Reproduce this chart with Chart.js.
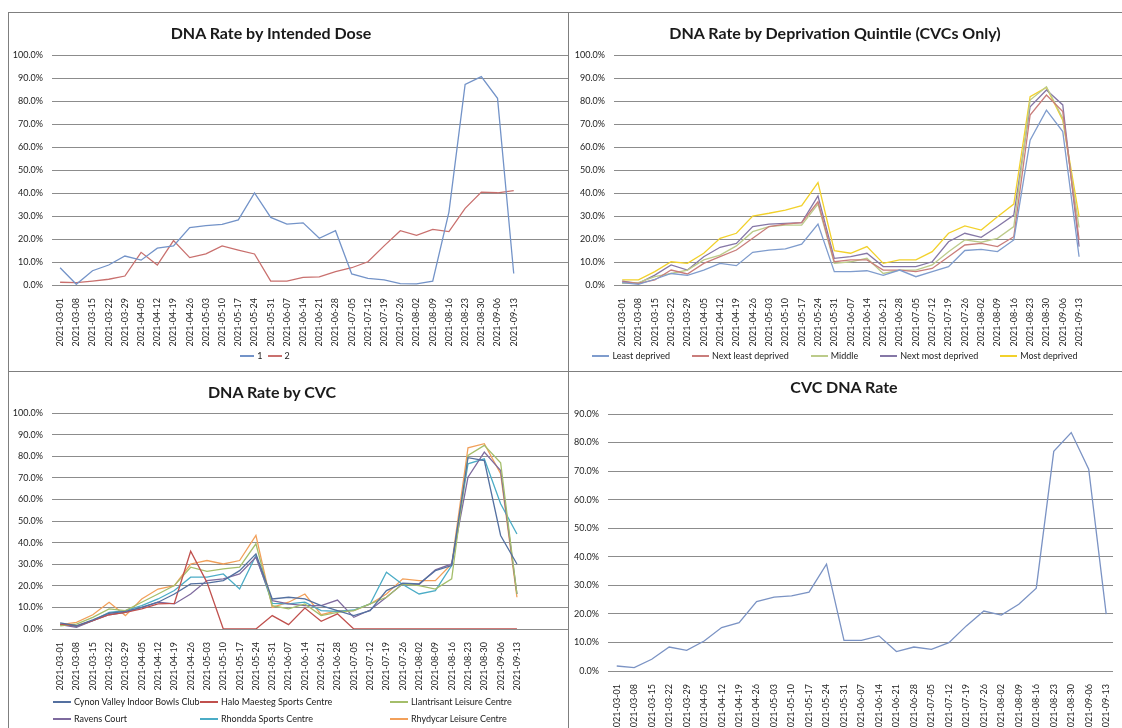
<!DOCTYPE html>
<html>
<head>
<meta charset="utf-8">
<script src="https://cdn.jsdelivr.net/npm/chart.js@4/dist/chart.umd.min.js"></script>
<style>
  html, body { margin: 0; padding: 0; background: #fff; }
  body { width: 1122px; height: 728px; overflow: hidden; position: relative; font-family: Lato, 'Open Sans', sans-serif; }
  canvas { position: absolute; }
  .rule { position: absolute; background: #7f7f7f; }
  .title { position: absolute; width: 500px; text-align: center; font: bold 16px/20px Lato, sans-serif; color: #1a1a1a; }
  .legend { position: absolute; display: flex; align-items: center; font: 9px/11px Lato, sans-serif; color: #222; white-space: nowrap; }
  .item { display: flex; align-items: center; }
  .swatch { display: inline-block; height: 2px; margin-right: 3px; }
  .grid3 { position: absolute; display: grid; grid-template-columns: 147px 190px 160px; row-gap: 6px; font: 9px/11px Lato, sans-serif; color: #222; white-space: nowrap; }
</style>
</head>
<body>

<div class="rule" style="left:8px;top:12px;width:1114px;height:1px"></div>
<div class="rule" style="left:8px;top:12px;width:1px;height:716px"></div>
<div class="rule" style="left:568px;top:12px;width:1px;height:716px"></div>
<div class="rule" style="left:8px;top:371px;width:1114px;height:1px"></div>

<canvas id="doseChart" width="559" height="358" style="left:9px;top:13px"></canvas>
<canvas id="quintileChart" width="553" height="358" style="left:569px;top:13px"></canvas>
<canvas id="cvcChart" width="559" height="356" style="left:9px;top:372px"></canvas>
<canvas id="rateChart" width="553" height="380" style="left:569px;top:372px"></canvas>

<div class="title" style="left:21px;top:23px">DNA Rate by Intended Dose</div>
<div class="title" style="left:585px;top:23px">DNA Rate by Deprivation Quintile (CVCs Only)</div>
<div class="title" style="left:22px;top:382px">DNA Rate by CVC</div>
<div class="title" style="left:594px;top:377px">CVC DNA Rate</div>

<div id="doseLegend" class="legend" style="left:0;width:530px;top:350px;justify-content:center;gap:5px"></div>
<div id="quintileLegend" class="legend" style="left:569px;width:532px;top:350px;justify-content:center;gap:22px"></div>
<div id="cvcLegend" class="grid3" style="left:53px;top:696px"></div>

<script>
// weekly dates
const weeks = ['2021-03-01','2021-03-08','2021-03-15','2021-03-22','2021-03-29','2021-04-05','2021-04-12',
  '2021-04-19','2021-04-26','2021-05-03','2021-05-10','2021-05-17','2021-05-24','2021-05-31','2021-06-07',
  '2021-06-14','2021-06-21','2021-06-28','2021-07-05','2021-07-12','2021-07-19','2021-07-26','2021-08-02',
  '2021-08-09','2021-08-16','2021-08-23','2021-08-30','2021-09-06','2021-09-13'];

// DNA rate by intended dose (%)
const dose1 = [7.5, 0.3, 6.2, 8.7, 12.6, 10.8, 16.0, 17.0, 25.0, 25.8, 26.4, 28.3, 40.0, 29.4, 26.5, 27.0, 20.3, 23.6, 4.8, 2.9, 2.2, 0.6, 0.5, 1.7, 31.7, 87.2, 90.6, 81.2, 5.0];
const dose2 = [1.2, 1.0, 1.7, 2.5, 3.9, 14.2, 8.7, 19.3, 11.9, 13.5, 17.0, 15.2, 13.5, 1.7, 1.7, 3.3, 3.5, 5.8, 7.5, 10.1, 17.0, 23.6, 21.6, 24.2, 23.2, 33.3, 40.4, 40.1, 41.0];

// deprivation quintiles (%)
const leastDeprived = [1.0, 0.3, 2.5, 5.0, 4.2, 6.5, 9.4, 8.4, 14.2, 15.2, 15.7, 17.8, 26.5, 5.8, 5.8, 6.2, 4.2, 6.5, 3.6, 5.8, 8.0, 15.0, 15.5, 14.5, 19.6, 63.0, 76.0, 66.7, 12.3];
const nextLeastDeprived = [1.4, 0.7, 2.2, 6.5, 4.8, 9.4, 12.3, 15.2, 20.3, 25.4, 26.5, 27.1, 36.2, 10.1, 10.9, 10.9, 6.5, 6.5, 5.8, 7.2, 12.3, 17.4, 18.1, 16.7, 21.0, 73.9, 82.6, 75.4, 19.6];
const middleQuintile = [0.7, 1.0, 3.6, 5.0, 6.5, 10.9, 13.0, 17.0, 23.2, 25.4, 26.0, 26.0, 35.2, 9.4, 10.1, 11.6, 5.0, 6.5, 6.5, 8.7, 14.5, 19.6, 18.6, 20.3, 25.4, 80.4, 86.2, 72.5, 25.0];
const nextMostDeprived = [1.7, 0.7, 4.3, 8.7, 6.5, 12.3, 16.4, 18.1, 25.4, 26.5, 26.8, 27.1, 38.7, 11.6, 12.3, 13.8, 8.0, 8.0, 8.0, 10.1, 18.8, 22.5, 20.7, 25.4, 30.4, 77.5, 84.8, 78.3, 16.7];
const mostDeprived = [2.2, 2.2, 5.8, 10.1, 9.4, 13.8, 20.3, 22.5, 30.0, 31.2, 32.6, 34.5, 44.5, 14.9, 13.8, 16.7, 9.4, 10.9, 10.9, 14.5, 22.5, 25.7, 23.9, 29.7, 35.2, 81.9, 85.9, 71.7, 29.7];

// by CVC (%)
const cynonValley = [2.8, 1.5, 4.2, 7.3, 8.2, 10.0, 12.4, 16.2, 20.9, 21.2, 22.4, 27.0, 34.8, 13.9, 14.7, 13.9, 10.8, 8.5, 6.2, 8.5, 17.8, 21.2, 20.9, 27.0, 29.4, 79.3, 78.0, 43.3, 30.1];
const haloMaesteg = [2.3, 1.5, 3.9, 6.6, 7.7, 9.3, 11.6, 11.9, 36.0, 21.6, 0, 0, 0, 6.2, 2.0, 9.7, 3.6, 7.0, 0, 0, 0, 0, 0, 0, 0, 0, 0, 0, 0];
const llantrisant = [1.5, 2.3, 5.4, 9.3, 8.5, 12.4, 16.2, 20.1, 28.6, 26.7, 27.8, 28.6, 39.4, 10.8, 9.3, 11.6, 6.2, 7.7, 8.5, 11.6, 14.7, 20.9, 20.1, 18.5, 23.2, 80.4, 85.0, 77.0, 16.2];
const ravensCourt = [2.0, 0.8, 3.9, 6.6, 7.7, 10.0, 12.4, 11.6, 16.2, 22.4, 23.2, 25.5, 33.2, 13.1, 11.6, 10.8, 10.8, 13.4, 5.4, 8.8, 14.7, 20.9, 20.6, 27.4, 30.1, 70.3, 81.9, 73.4, 16.2];
const rhondda = [2.3, 1.1, 3.9, 7.7, 8.5, 10.8, 13.9, 17.8, 24.0, 24.0, 25.5, 18.5, 34.0, 11.9, 11.6, 12.4, 8.5, 8.2, 8.8, 11.6, 26.3, 20.6, 16.2, 17.8, 29.4, 76.5, 78.8, 58.0, 44.0];
const rhydycar = [2.0, 3.1, 6.6, 12.4, 6.2, 13.9, 18.5, 20.1, 30.1, 31.7, 30.1, 31.7, 43.3, 10.0, 12.4, 16.2, 6.6, 8.5, 8.5, 11.6, 16.2, 23.2, 22.4, 22.4, 30.1, 83.9, 85.8, 71.9, 14.7];

// overall CVC rate (%)
const cvcRate = [1.75, 1.2, 4.1, 8.4, 7.2, 10.5, 15.2, 16.9, 24.3, 25.9, 26.3, 27.6, 37.4, 10.7, 10.7, 12.3, 6.8, 8.4, 7.6, 9.9, 15.8, 21.0, 19.6, 23.4, 29.0, 76.9, 83.5, 70.7, 19.9];

const tickFont = { family: "Lato, 'Open Sans', sans-serif", size: 9 };
const tickColour = '#222';
const gridColour = '#8c8c8c';

const doseSeries = [
    { label: '1', values: dose1, color: '#7393c8' },
    { label: '2', values: dose2, color: '#c9706e' },
];
const quintileSeries = [
    { label: 'Least deprived', values: leastDeprived, color: '#7f9ccd' },
    { label: 'Next least deprived', values: nextLeastDeprived, color: '#c97d7b' },
    { label: 'Middle', values: middleQuintile, color: '#bccb8a' },
    { label: 'Next most deprived', values: nextMostDeprived, color: '#8577a6' },
    { label: 'Most deprived', values: mostDeprived, color: '#f2d12b' },
];
const cvcSeries = [
    { label: 'Cynon Valley Indoor Bowls Club', values: cynonValley, color: '#5470a0' },
    { label: 'Halo Maesteg Sports Centre', values: haloMaesteg, color: '#c0504d' },
    { label: 'Llantrisant Leisure Centre', values: llantrisant, color: '#a4be6a' },
    { label: 'Ravens Court', values: ravensCourt, color: '#7e6a9e' },
    { label: 'Rhondda Sports Centre', values: rhondda, color: '#4bacc6' },
    { label: 'Rhydycar Leisure Centre', values: rhydycar, color: '#f2a05a' },
];
const rateSeries = [
    { label: 'CVC DNA Rate', values: cvcRate, color: '#7b93c4' },
];

// o: top padding, y axis width, x axis height, x max, y max
function lineChart(id, series, o) {
    const ctx = document.getElementById(id).getContext('2d');
    return new Chart(ctx, {
        type: 'line',
        data: {
            datasets: series.map(s => ({
                label: s.label,
                data: s.values.map((v, i) => ({ x: i, y: v })),
                borderColor: s.color,
                backgroundColor: s.color,
                borderWidth: 1.3,
                pointRadius: 0,
                tension: 0,
            })),
        },
        options: {
            responsive: false,
            animation: false,
            devicePixelRatio: 1,
            layout: { padding: { top: o.top, right: 0, bottom: 0, left: 0 } },
            plugins: { legend: { display: false }, title: { display: false }, tooltip: { enabled: false } },
            scales: {
                x: {
                    type: 'linear',
                    min: -0.5,
                    max: o.xMax,
                    // one tick per week, sitting on the data points
                    afterBuildTicks: axis => { axis.ticks = weeks.map((w, i) => ({ value: i })); },
                    afterFit: scale => { scale.height = o.xHeight; },
                    grid: { display: false },
                    border: { display: false },
                    ticks: {
                        autoSkip: false, minRotation: 90, maxRotation: 90, padding: 5,
                        font: tickFont, color: tickColour,
                        callback: v => weeks[v] ?? '',
                    },
                },
                y: {
                    min: 0,
                    max: o.yMax,
                    afterFit: scale => { scale.width = o.yWidth; },
                    grid: { color: gridColour, drawTicks: false, lineWidth: 1 },
                    border: { display: false },
                    ticks: {
                        stepSize: 10, padding: 9, font: tickFont, color: tickColour,
                        callback: v => v.toFixed(1) + '%',
                    },
                },
            },
        },
    });
}

function fillLegend(id, series, swatchWidth) {
    const box = document.getElementById(id);
    for (const s of series) {
        const item = document.createElement('div');
        item.className = 'item';
        const sw = document.createElement('span');
        sw.className = 'swatch';
        sw.style.width = swatchWidth + 'px';
        sw.style.background = s.color;
        item.appendChild(sw);
        item.appendChild(document.createTextNode(s.label));
        box.appendChild(item);
    }
}

lineChart('doseChart', doseSeries, { top: 42, yWidth: 43, xHeight: 86, xMax: 31.35, yMax: 100 });
lineChart('quintileChart', quintileSeries, { top: 42, yWidth: 45, xHeight: 86, xMax: 30.63, yMax: 100 });
lineChart('cvcChart', cvcSeries, { top: 41, yWidth: 43, xHeight: 99, xMax: 31.13, yMax: 100 });
lineChart('rateChart', rateSeries, { top: 42, yWidth: 39, xHeight: 81, xMax: 28.39, yMax: 90 });

fillLegend('doseLegend', doseSeries, 14);
fillLegend('quintileLegend', quintileSeries, 17);
fillLegend('cvcLegend', cvcSeries, 18);
</script>
</body>
</html>
